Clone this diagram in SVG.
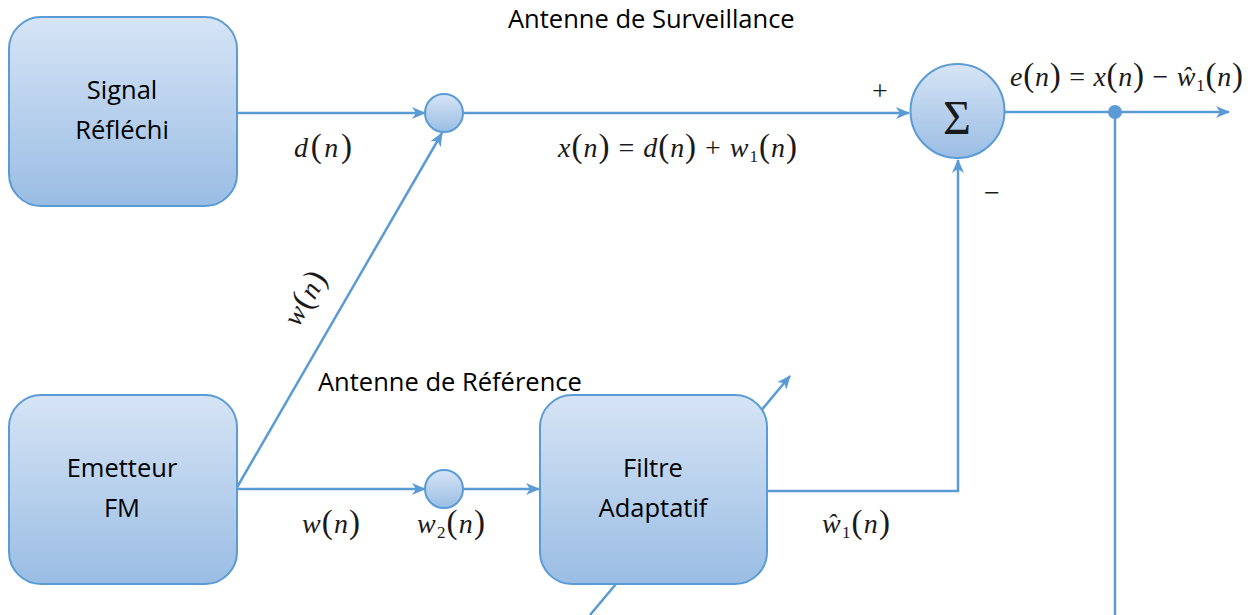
<svg xmlns="http://www.w3.org/2000/svg" width="1257" height="615" viewBox="0 0 1257 615">
  <defs>
    <linearGradient id="fillGrad" x1="0" y1="0" x2="0" y2="1">
      <stop offset="0" stop-color="#d6e4f5"/>
      <stop offset="1" stop-color="#9abde4"/>
    </linearGradient>
    <marker id="arrow" viewBox="0 0 14 12" refX="13" refY="6" markerWidth="14" markerHeight="12" markerUnits="userSpaceOnUse" orient="auto">
      <path d="M0,0 L14,6 L0,12 L4,6 Z" fill="#5b9bd5"/>
    </marker>
  </defs>
  <style>
    .box { fill: url(#fillGrad); stroke: #5b9bd5; stroke-width: 2; }
    .conn { fill: none; stroke: #5b9bd5; stroke-width: 2.5; }
    .arr { marker-end: url(#arrow); }
    .lbl { font-family: "Open Sans", "Liberation Sans", sans-serif; font-size: 25.5px; fill: #000; }
    .mid { text-anchor: middle; }
    .math { font-family: "Liberation Serif", "Times New Roman", serif; font-size: 28px; fill: #1a1a1a; }
    .it { font-style: italic; }
    .sub { font-size: 17px; }
    .p { font-size: 33px; }
  </style>

  <rect width="1257" height="615" fill="#ffffff"/>

  <g id="connectors">
    <line class="conn arr" x1="590" y1="615" x2="790" y2="376"/>
    <line class="conn arr" x1="237" y1="113" x2="425" y2="113"/>
    <line class="conn arr" x1="463" y1="113" x2="909" y2="113"/>
    <line class="conn arr" x1="236" y1="489" x2="442" y2="133"/>
    <line class="conn arr" x1="237" y1="489" x2="425" y2="489"/>
    <line class="conn arr" x1="463" y1="489" x2="539" y2="489"/>
    <polyline class="conn arr" points="767,491 958,491 958,160"/>
    <line class="conn arr" x1="1005" y1="112" x2="1229" y2="112"/>
    <line class="conn" x1="1115" y1="112" x2="1115" y2="615"/>
    <circle cx="1115" cy="112" r="7" fill="#5b9bd5"/>
  </g>

  <g id="signal-reflechi">
    <rect class="box" x="9" y="17" width="228" height="189" rx="32" ry="32"/>
    <text class="lbl mid" x="122" y="99">Signal</text>
    <text class="lbl mid" x="122" y="139">Réfléchi</text>
  </g>

  <g id="emetteur-fm">
    <rect class="box" x="9" y="395" width="228" height="189" rx="32" ry="32"/>
    <text class="lbl mid" x="122" y="477">Emetteur</text>
    <text class="lbl mid" x="122" y="517">FM</text>
  </g>

  <g id="filtre-adaptatif">
    <rect class="box" x="540" y="395" width="227" height="189" rx="32" ry="32"/>
    <text class="lbl mid" x="653" y="477">Filtre</text>
    <text class="lbl mid" x="653" y="517">Adaptatif</text>
  </g>

  <g id="junction-top">
    <circle class="box" cx="444" cy="113" r="19"/>
  </g>

  <g id="junction-bottom">
    <circle class="box" cx="444" cy="489" r="19"/>
  </g>

  <g id="sommateur">
    <circle class="box" cx="957.5" cy="111" r="47"/>
    <text x="957" y="134" text-anchor="middle" font-family="Liberation Serif, serif" font-size="48" fill="#1a1a1a">Σ</text>
  </g>

  <g id="labels">
    <text class="lbl" x="508" y="28">Antenne de Surveillance</text>
    <text class="lbl" x="318" y="391">Antenne de Référence</text>

    <text class="math" x="872" y="100" font-size="24">+</text>
    <text class="math" x="984" y="202" font-size="24">−</text>

    <text class="math" x="1010" y="86" textLength="233" lengthAdjust="spacing"><tspan class="it">e</tspan><tspan class="p">(</tspan><tspan class="it">n</tspan><tspan class="p">)</tspan> = <tspan class="it">x</tspan><tspan class="p">(</tspan><tspan class="it">n</tspan><tspan class="p">)</tspan> − <tspan class="it">ŵ</tspan><tspan class="sub" dy="5">1</tspan><tspan class="p" dy="-5">(</tspan><tspan class="it">n</tspan><tspan class="p">)</tspan></text>

    <text class="math" x="558" y="157" textLength="239" lengthAdjust="spacing"><tspan class="it">x</tspan><tspan class="p">(</tspan><tspan class="it">n</tspan><tspan class="p">)</tspan> = <tspan class="it">d</tspan><tspan class="p">(</tspan><tspan class="it">n</tspan><tspan class="p">)</tspan> + <tspan class="it">w</tspan><tspan class="sub" dy="5">1</tspan><tspan class="p" dy="-5">(</tspan><tspan class="it">n</tspan><tspan class="p">)</tspan></text>

    <text class="math" x="294" y="157" textLength="58" lengthAdjust="spacing"><tspan class="it">d</tspan><tspan class="p">(</tspan><tspan class="it">n</tspan><tspan class="p">)</tspan></text>

    <text class="math" x="302" y="533" textLength="58" lengthAdjust="spacing"><tspan class="it">w</tspan><tspan class="p">(</tspan><tspan class="it">n</tspan><tspan class="p">)</tspan></text>

    <text class="math" x="417" y="533" textLength="68" lengthAdjust="spacing"><tspan class="it">w</tspan><tspan class="sub" dy="5">2</tspan><tspan class="p" dy="-5">(</tspan><tspan class="it">n</tspan><tspan class="p">)</tspan></text>

    <text class="math" x="822" y="533" textLength="68" lengthAdjust="spacing"><tspan class="it">ŵ</tspan><tspan class="sub" dy="5">1</tspan><tspan class="p" dy="-5">(</tspan><tspan class="it">n</tspan><tspan class="p">)</tspan></text>

    <text class="math" text-anchor="middle" transform="translate(313,303) rotate(-60)" x="0" y="0" textLength="58" lengthAdjust="spacing"><tspan class="it">w</tspan><tspan class="p">(</tspan><tspan class="it">n</tspan><tspan class="p">)</tspan></text>
  </g>
</svg>
